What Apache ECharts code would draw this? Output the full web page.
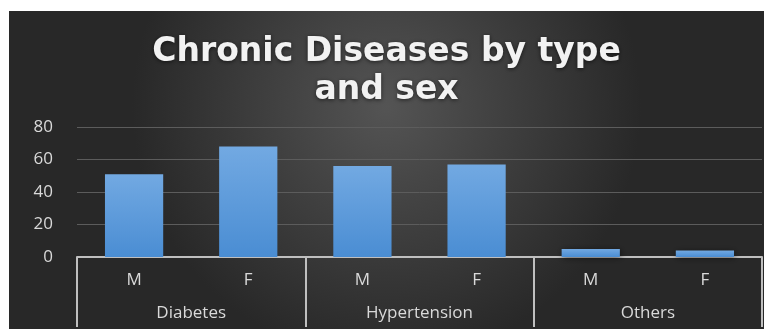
<!DOCTYPE html>
<html>
<head>
<meta charset="utf-8">
<script src="https://cdn.jsdelivr.net/npm/echarts@6/dist/echarts.min.js"></script>
<style>
  html, body { margin: 0; padding: 0; background: #fff; }
  #chart { position: absolute; left: 9px; top: 11px; width: 755px; height: 318px; }
</style>
</head>
<body>
<div id="chart"></div>
<script>
// data
const groups = ['Diabetes', 'Hypertension', 'Others'];
const sexes = ['M', 'F', 'M', 'F', 'M', 'F'];
const counts = [51, 68, 56, 57, 5, 4];
const yTicks = { min: 0, max: 80, interval: 20 };

const labelColor = '#d9d9d9';
const lineColor = '#bfbfbf';

const chart = echarts.init(document.getElementById('chart'));
chart.setOption({
  backgroundColor: new echarts.graphic.RadialGradient(0.5, 0.3, 0.8, [
    { offset: 0, color: '#545454' },
    { offset: 1, color: '#282828' },
  ]),
  title: {
    text: 'Chronic Diseases by type\nand sex',
    left: 'center',
    top: 17,
    textStyle: {
      color: '#f2f2f2',
      fontFamily: 'DejaVu Sans',
      fontWeight: 'bold',
      fontSize: 33,
      lineHeight: 38,
      textShadowColor: 'rgba(0,0,0,0.6)',
      textShadowBlur: 4,
      textShadowOffsetY: 1,
    },
  },
  grid: {
    left: 68,
    right: 2,
    top: 116,
    bottom: 72,
  },
  xAxis: [
    {
      type: 'category',
      data: sexes,
      axisLine: { lineStyle: { color: lineColor, width: 2 } },
      axisTick: { show: false },
      axisLabel: {
        color: labelColor,
        fontFamily: 'Open Sans',
        fontSize: 17,
        margin: 15,
      },
    },
    {
      type: 'category',
      data: groups,
      position: 'bottom',
      axisLine: { show: false },
      axisTick: {
        show: true,
        interval: 0,
        length: 70,
        lineStyle: { color: lineColor, width: 2 },
      },
      axisLabel: {
        color: labelColor,
        fontFamily: 'Open Sans',
        fontSize: 17,
        margin: 48,
      },
    },
  ],
  yAxis: {
    type: 'value',
    min: yTicks.min,
    max: yTicks.max,
    interval: yTicks.interval,
    axisLine: { show: false },
    axisTick: { show: false },
    axisLabel: {
      color: labelColor,
      fontFamily: 'Open Sans',
      fontSize: 17,
      margin: 24,
    },
    splitLine: { lineStyle: { color: '#5c5c5c', width: 1 } },
  },
  series: [
    {
      type: 'bar',
      xAxisIndex: 0,
      data: counts,
      barWidth: '51%',
      itemStyle: {
        color: new echarts.graphic.LinearGradient(0, 0, 0, 1, [
          { offset: 0, color: '#72a9e2' },
          { offset: 1, color: '#4a8dd3' },
        ]),
        shadowColor: 'rgba(0,0,0,0.5)',
        shadowBlur: 6,
        shadowOffsetX: 1,
        shadowOffsetY: 1,
      },
    },
  ],
});
</script>
</body>
</html>
